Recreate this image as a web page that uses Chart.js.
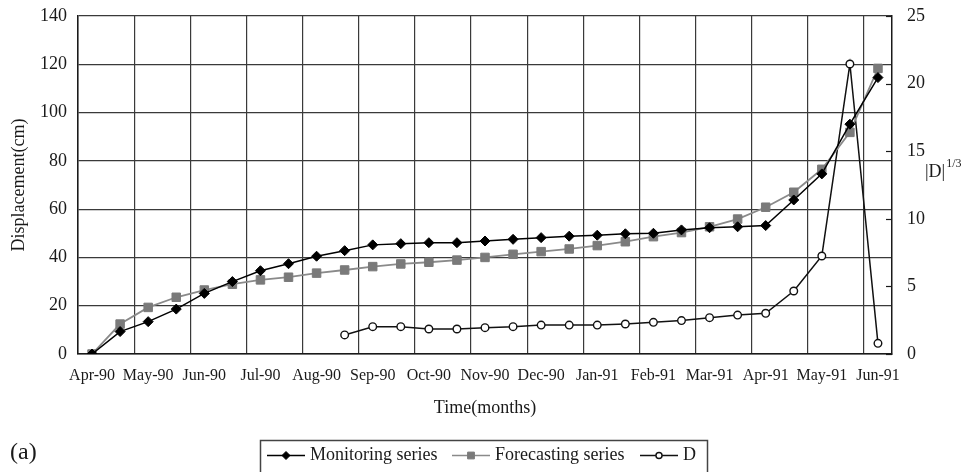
<!DOCTYPE html>
<html>
<head>
<meta charset="utf-8">
<script src="https://cdn.jsdelivr.net/npm/chart.js@4.4.1/dist/chart.umd.min.js"></script>
<style>
  html, body { margin: 0; padding: 0; background: #ffffff; }
  #wrap { width: 966px; height: 472px; position: relative; }
  canvas { display: block; }
</style>
</head>
<body>
<div id="wrap"><canvas id="chart" width="966" height="472"></canvas></div>
<script>
// Month labels; readings are taken twice a month, so a blank slot sits between months
const months = ['Apr-90', 'May-90', 'Jun-90', 'Jul-90', 'Aug-90', 'Sep-90', 'Oct-90', 'Nov-90',
                'Dec-90', 'Jan-91', 'Feb-91', 'Mar-91', 'Apr-91', 'May-91', 'Jun-91'];
const categories = [];
months.forEach((m, i) => {
  categories.push(m);
  if (i < months.length - 1) categories.push('');
});

// Displacement (cm)
const monitoring = [0, 9.3, 13.4, 18.6, 25.1, 30.0, 34.5, 37.4, 40.5, 42.8, 45.2, 45.7, 46.1, 46.1,
                    46.8, 47.5, 48.2, 48.8, 49.2, 49.8, 50.0, 51.4, 52.3, 52.7, 53.2, 63.8, 74.6, 95.2, 114.5];
const forecasting = [0, 12.4, 19.3, 23.5, 26.5, 28.9, 30.7, 31.8, 33.5, 34.8, 36.2, 37.3, 38.0, 38.9,
                     40.0, 41.3, 42.4, 43.5, 44.9, 46.5, 48.6, 50.3, 52.7, 55.9, 60.8, 67.0, 76.5, 91.8, 118.3];
// |D|^(1/3), right axis
const dValues = [null, null, null, null, null, null, null, null, null, 1.41, 2.02, 2.02, 1.85, 1.85,
                 1.95, 2.02, 2.14, 2.14, 2.14, 2.22, 2.34, 2.47, 2.69, 2.88, 3.01, 4.66, 7.25, 21.45, 0.79];

const seriesNames = ['Monitoring series', 'Forecasting series', 'D'];

const SERIF = "'Liberation Serif', 'Times New Roman', serif";
const INK = '#1a1a1a';
const GRID = '#3a3a3a';

const markerStyles = [
  { pointStyle: 'rectRot', radius: 5, borderWidth: 1, fill: '#000000', stroke: '#000000', line: '#000000' },
  { pointStyle: 'rect', radius: 6, borderWidth: 1, fill: '#7a7a7a', stroke: '#7a7a7a', line: '#8a8a8a' },
  { pointStyle: 'circle', radius: 3.8, borderWidth: 1.4, fill: '#ffffff', stroke: '#111111', line: '#111111' }
];

// Short inward tick marks on the right axis
const rightTicks = {
  id: 'rightTicks',
  afterDraw(chart) {
    const s = chart.scales.y1;
    const ctx = chart.ctx;
    ctx.save();
    ctx.strokeStyle = INK;
    ctx.lineWidth = 1.2;
    s.ticks.forEach(t => {
      const y = Math.round(s.getPixelForValue(t.value)) + 0.5;
      ctx.beginPath();
      ctx.moveTo(s.left - 6, y);
      ctx.lineTo(s.left, y);
      ctx.stroke();
    });
    ctx.restore();
  }
};

// Right axis title |D|^(1/3), panel letter and boxed legend
const annotations = {
  id: 'annotations',
  afterDraw(chart) {
    const ctx = chart.ctx;
    const s = chart.scales.y1;
    ctx.save();
    ctx.fillStyle = INK;
    ctx.textBaseline = 'alphabetic';
    ctx.textAlign = 'left';
    const ty = s.getPixelForValue(13.1);
    ctx.font = '18px ' + SERIF;
    ctx.fillText('|D|', s.left + 33, ty);
    const w = ctx.measureText('|D|').width;
    ctx.font = '12px ' + SERIF;
    ctx.fillText('1/3', s.left + 34 + w, ty - 10);

    ctx.font = '24px ' + SERIF;
    ctx.textBaseline = 'middle';
    ctx.fillText('(a)', 10, 453);

    // legend
    const boxLeft = 260.5, boxTop = 440.5, boxRight = 707.5;
    ctx.strokeStyle = '#444444';
    ctx.lineWidth = 1.5;
    ctx.strokeRect(boxLeft, boxTop, boxRight - boxLeft, 40);
    const ly = 455.5;
    const items = [
      { x1: 267, x2: 305, tx: 310 },
      { x1: 452, x2: 490, tx: 495 },
      { x1: 640, x2: 678, tx: 683 }
    ];
    items.forEach((it, i) => {
      const m = markerStyles[i];
      ctx.strokeStyle = m.line;
      ctx.lineWidth = 1.6;
      ctx.beginPath();
      ctx.moveTo(it.x1, ly);
      ctx.lineTo(it.x2, ly);
      ctx.stroke();
      ctx.fillStyle = m.fill;
      ctx.strokeStyle = m.stroke;
      ctx.lineWidth = m.borderWidth;
      Chart.helpers.drawPoint(ctx, {
        pointStyle: m.pointStyle, radius: m.radius * 0.8, rotation: 0, borderWidth: m.borderWidth
      }, (it.x1 + it.x2) / 2, ly);
      ctx.fillStyle = INK;
      ctx.font = '18px ' + SERIF;
      ctx.textBaseline = 'middle';
      ctx.fillText(seriesNames[i], it.tx, ly);
    });
    ctx.restore();
  }
};

function lineDataset(label, data, idx, axis) {
  const m = markerStyles[idx];
  return {
    label: label,
    data: data,
    yAxisID: axis,
    borderColor: m.line,
    backgroundColor: m.fill,
    borderWidth: idx === 1 ? 1.8 : 1.5,
    tension: 0,
    pointStyle: m.pointStyle,
    pointRadius: m.radius,
    pointHoverRadius: m.radius,
    pointBackgroundColor: m.fill,
    pointBorderColor: m.stroke,
    pointBorderWidth: m.borderWidth,
    spanGaps: false
  };
}

// Fixed axis widths; the plot box edges are set by the layout padding alone
function fixVertical(width) {
  return s => {
    s.width = width;
    s.paddingTop = 0;
    s.paddingBottom = 0;
  };
}

new Chart(document.getElementById('chart'), {
  type: 'line',
  data: {
    labels: categories,
    datasets: [
      lineDataset(seriesNames[0], monitoring, 0, 'y'),
      lineDataset(seriesNames[1], forecasting, 1, 'y'),
      lineDataset(seriesNames[2], dValues, 2, 'y1')
    ]
  },
  options: {
    responsive: false,
    animation: false,
    devicePixelRatio: 1,
    layout: { padding: { top: 16, right: 0, bottom: 49, left: 0 } },
    plugins: {
      legend: { display: false },
      tooltip: { enabled: false }
    },
    scales: {
      x: {
        type: 'category',
        offset: true,
        grid: {
          offset: true,
          drawTicks: false,
          lineWidth: 1.2,
          color: ctx => (ctx.index !== undefined && ctx.index % 2 === 0) ? GRID : 'rgba(0,0,0,0)'
        },
        border: { display: true, color: INK, width: 1.5 },
        ticks: {
          autoSkip: false,
          maxRotation: 0,
          minRotation: 0,
          padding: 12,
          color: INK,
          font: { family: SERIF, size: 16 }
        },
        title: {
          display: true,
          text: 'Time(months)',
          color: INK,
          font: { family: SERIF, size: 18 },
          padding: { top: 4, bottom: 4 }
        },
        afterFit: s => { s.height = 69; s.paddingLeft = 0; s.paddingRight = 0; }
      },
      y: {
        position: 'left',
        min: 0,
        max: 140,
        ticks: {
          stepSize: 20,
          padding: 11,
          color: INK,
          font: { family: SERIF, size: 18 }
        },
        grid: { color: GRID, lineWidth: 1.2, drawTicks: false },
        border: { display: true, color: INK, width: 1.5 },
        title: {
          display: true,
          text: 'Displacement(cm)',
          color: INK,
          font: { family: SERIF, size: 18 },
          padding: { top: 8, bottom: 4 }
        },
        afterFit: fixVertical(78)
      },
      y1: {
        position: 'right',
        min: 0,
        max: 25,
        ticks: {
          stepSize: 5,
          padding: 15,
          color: INK,
          font: { family: SERIF, size: 18 }
        },
        grid: { drawOnChartArea: false, drawTicks: false },
        border: { display: true, color: INK, width: 1.5 },
        afterFit: fixVertical(74)
      }
    }
  },
  plugins: [rightTicks, annotations]
});
</script>
</body>
</html>
